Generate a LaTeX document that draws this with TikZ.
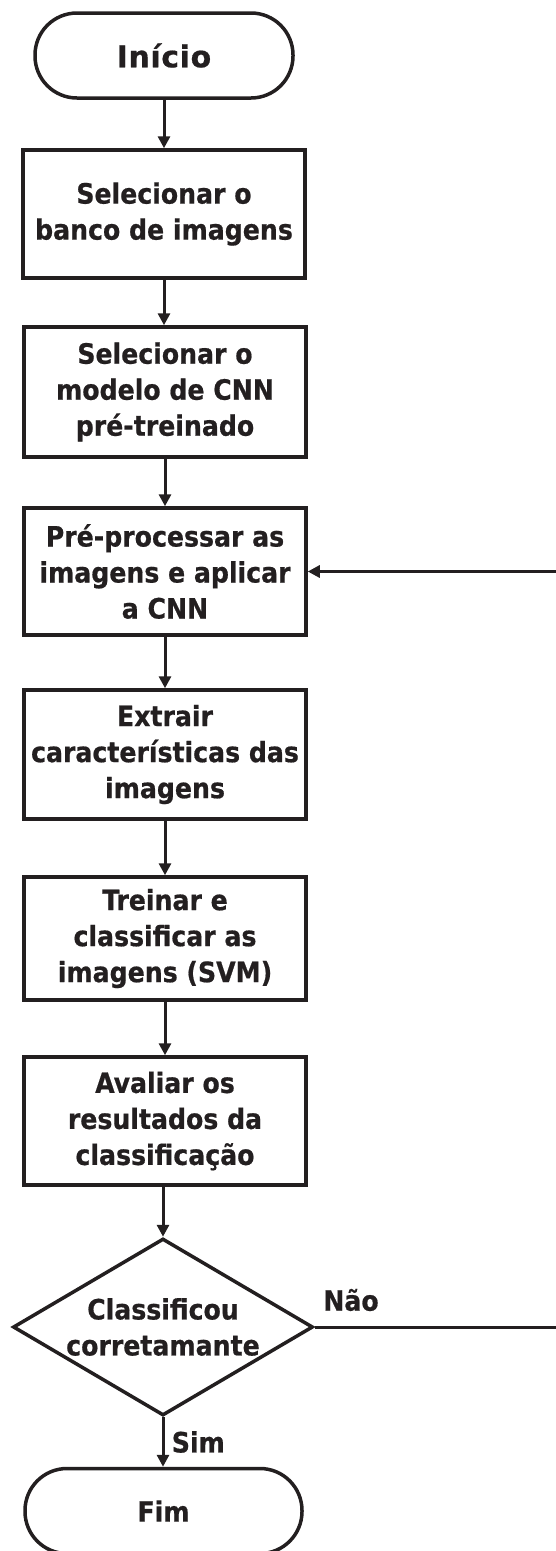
\documentclass[tikz,border=0pt]{standalone}
\usepackage{fontspec}
\setmainfont{DejaVu Sans Condensed}[BoldFeatures={FakeBold=0.6}]
\newfontfamily\widesans{DejaVu Sans}[LetterSpace=2, BoldFeatures={FakeBold=0.6}]
\usetikzlibrary{arrows.meta,shapes.geometric}
\definecolor{ink}{RGB}{35,31,32}
\begin{document}
\begin{tikzpicture}[
        x=1pt, y=-1pt,
        every node/.style={font=\bfseries\fontsize{28}{36}\selectfont, text=ink, align=center},
        term/.style={draw=ink, line width=3.5pt, rounded corners=42pt, minimum height=85pt, inner sep=0pt},
        proc/.style={draw=ink, line width=3.5pt, minimum width=282pt, inner sep=0pt},
        decision/.style={draw=ink, line width=3.5pt, diamond, aspect=1.7, minimum width=300pt, minimum height=177pt, inner sep=0pt},
        flow/.style={draw=ink, line width=3pt, -{Triangle[length=12pt,width=12pt]}}
    ]
    \useasboundingbox (0,0) rectangle (556,1551);
    \node[term, minimum width=258pt, font=\widesans\bfseries\fontsize{30}{36}\selectfont] (inicio) at (164,55.5) {Início};
    \node[proc, minimum height=128pt] (banco) at (164,214) {Selecionar o\\banco de imagens};
    \node[proc, minimum height=130pt] (modelo) at (165,392) {Selecionar o\\modelo de CNN\\pré-treinado};
    \node[proc, minimum height=127pt] (preproc) at (165,571.5) {Pré-processar as\\imagens e aplicar\\a CNN};
    \node[proc, minimum height=129pt] (extrair) at (165,754.5) {Extrair\\características das\\imagens};
    \node[proc, minimum height=123pt] (treinar) at (165,938.5) {Treinar e\\classificar as\\imagens (SVM)};
    \node[proc, minimum height=128pt] (avaliar) at (165,1121) {Avaliar os\\resultados da\\classificação};
    \node[decision] (classif) at (163,1327) {};
    \node (classiftxt) at (classif) {Classificou\\corretamante};
    \node[term, minimum width=277pt] (fim) at (163.5,1511) {Fim};
    \coordinate (retA) at (600,1327);
    \coordinate (retB) at (600,571.5);

    \draw[flow] (inicio) -- (banco.north -| inicio.south);
    \draw[flow] (banco) -- (modelo.north -| banco.south);
    \draw[flow] (modelo) -- (preproc);
    \draw[flow] (preproc) -- (extrair);
    \draw[flow] (extrair) -- (treinar);
    \draw[flow] (treinar) -- (avaliar);
    \draw[flow] (avaliar.south -| classif.north) -- (classif);
    \draw[flow] (classif) -- node[right=4pt] (sim) {Sim} (fim.north -| classif.south);
    \draw[flow] (classif.east) -- (retA) -- (retB) -- (preproc.east);
    \node (nao) at (351,1300) {Não};
\end{tikzpicture}
\end{document}
